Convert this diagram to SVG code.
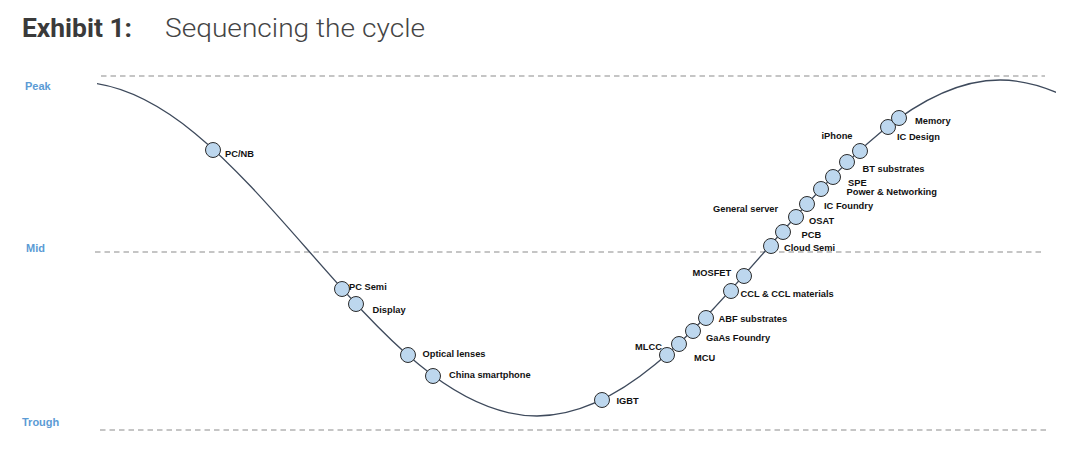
<svg xmlns="http://www.w3.org/2000/svg" width="1080" height="452" viewBox="0 0 1080 452">
<style>
.title-b{font-family:Roboto,"Liberation Sans",sans-serif;font-weight:700;font-size:26px;fill:#3a3a3a}
.title-l{font-family:Roboto,"Liberation Sans",sans-serif;font-weight:300;font-size:26px;fill:#444}
.lvl{font-family:"Liberation Sans",Arial,sans-serif;font-weight:700;font-size:11px;fill:#5b9bd5}
.ref{stroke:#8c8c8c;stroke-width:1.2;stroke-dasharray:5.5 4;fill:none}
.curve{stroke:#3e4a5c;stroke-width:1.3;fill:none}
.dot{fill:#bdd7ee;stroke:#2b2b2b;stroke-width:1}
.lbl{font-family:"Liberation Sans",Arial,sans-serif;font-weight:700;font-size:9.3px;fill:#111}
</style>
<defs>
<clipPath id="clipc"><rect x="97" y="0" width="959" height="452"/></clipPath>
</defs>
<rect width="1080" height="452" fill="#fff"/>
<g id="title">
<text class="title-b" x="22" y="37" textLength="110" lengthAdjust="spacingAndGlyphs">Exhibit 1:</text>
<text class="title-l" x="165" y="37" textLength="260" lengthAdjust="spacingAndGlyphs">Sequencing the cycle</text>
</g>
<g id="levels">
<text class="lvl" x="25" y="90">Peak</text>
<text class="lvl" x="26" y="252">Mid</text>
<text class="lvl" x="22" y="426">Trough</text>
<line class="ref" x1="101" y1="76" x2="1045" y2="76"/>
<line class="ref" x1="95" y1="252" x2="1045" y2="252"/>
<line class="ref" x1="100" y1="430" x2="1047" y2="430"/>
</g>
<g id="connectors">
<path class="curve" clip-path="url(#clipc)" d="M77,82 C160.2,82 232,163.4 307,249 C382,334.6 453.8,416 537,416 C620.2,416 692,334.6 767,249 C842,163.4 916.8,80 1000,80 C1083.2,80 1155,161.4 1230,247"/>
</g>
<g id="n-pcnb"><circle class="dot" cx="213" cy="150" r="7.5"/><text class="lbl" x="225" y="156.5">PC/NB</text></g>
<g id="n-pcsemi"><circle class="dot" cx="342" cy="289" r="7.5"/><text class="lbl" x="349" y="289.5">PC Semi</text></g>
<g id="n-display"><circle class="dot" cx="356" cy="304" r="7.5"/><text class="lbl" x="372.5" y="312.5">Display</text></g>
<g id="n-optical"><circle class="dot" cx="408" cy="355" r="7.5"/><text class="lbl" x="422.5" y="356.5">Optical lenses</text></g>
<g id="n-china"><circle class="dot" cx="433" cy="376" r="7.5"/><text class="lbl" x="449" y="378">China smartphone</text></g>
<g id="n-igbt"><circle class="dot" cx="602" cy="400" r="7.5"/><text class="lbl" x="616.5" y="404">IGBT</text></g>
<g id="n-mlcc"><circle class="dot" cx="667" cy="355" r="7.5"/><text class="lbl" x="635" y="350">MLCC</text></g>
<g id="n-mcu"><circle class="dot" cx="679" cy="344" r="7.5"/><text class="lbl" x="694" y="361">MCU</text></g>
<g id="n-gaas"><circle class="dot" cx="693" cy="331" r="7.5"/><text class="lbl" x="706" y="341">GaAs Foundry</text></g>
<g id="n-abf"><circle class="dot" cx="706" cy="318" r="7.5"/><text class="lbl" x="718.5" y="321.5">ABF substrates</text></g>
<g id="n-ccl"><circle class="dot" cx="731" cy="291" r="7.5"/><text class="lbl" x="740.5" y="296.5">CCL &amp; CCL materials</text></g>
<g id="n-mosfet"><circle class="dot" cx="744" cy="276" r="7.5"/><text class="lbl" x="692.5" y="276">MOSFET</text></g>
<g id="n-cloud"><circle class="dot" cx="771" cy="246" r="7.5"/><text class="lbl" x="784" y="251">Cloud Semi</text></g>
<g id="n-pcb"><circle class="dot" cx="783" cy="232" r="7.5"/><text class="lbl" x="801.5" y="237.5">PCB</text></g>
<g id="n-osat"><circle class="dot" cx="796" cy="217" r="7.5"/><text class="lbl" x="809" y="224">OSAT</text></g>
<g id="n-icfoundry"><circle class="dot" cx="807" cy="204" r="7.5"/><text class="lbl" x="824" y="209">IC Foundry</text></g>
<g id="n-server"><text class="lbl" x="713" y="211.5">General server</text></g>
<g id="n-power"><circle class="dot" cx="821" cy="189" r="7.5"/><text class="lbl" x="846.5" y="194.5">Power &amp; Networking</text></g>
<g id="n-spe"><circle class="dot" cx="833" cy="177" r="7.5"/><text class="lbl" x="848" y="185.5">SPE</text></g>
<g id="n-bt"><circle class="dot" cx="847" cy="162" r="7.5"/><text class="lbl" x="862.5" y="171.5">BT substrates</text></g>
<g id="n-iphone"><circle class="dot" cx="860" cy="151" r="7.5"/><text class="lbl" x="821.5" y="139">iPhone</text></g>
<g id="n-icdesign"><circle class="dot" cx="888" cy="127" r="7.5"/><text class="lbl" x="897" y="140">IC Design</text></g>
<g id="n-memory"><circle class="dot" cx="899" cy="118" r="7.5"/><text class="lbl" x="915" y="124">Memory</text></g>
</svg>
